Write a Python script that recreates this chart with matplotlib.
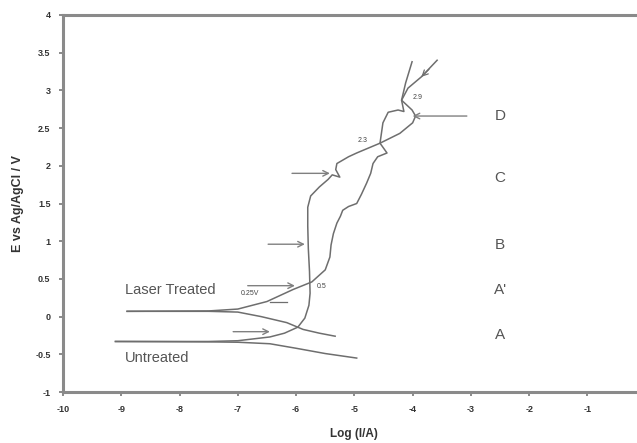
import matplotlib
matplotlib.use("Agg")
import matplotlib.pyplot as plt

plt.rcParams["font.family"] = ["Liberation Sans", "DejaVu Sans"]

# Laser treated sample: anodic (forward) branch and cathodic branch
laser_x = [-8.9, -7.5, -7.0, -6.5, -6.05, -5.73, -5.5, -5.42, -5.40, -5.36, -5.30,
           -5.24, -5.20, -5.10, -4.96, -4.88, -4.79, -4.72, -4.68, -4.60, -4.44,
           -4.56, -4.51, -4.42, -4.25, -4.15, -4.19, -4.08, -3.85, -3.58]
laser_y = [0.07, 0.075, 0.10, 0.20, 0.36, 0.46, 0.62, 0.79, 0.95, 1.10, 1.24,
           1.33, 1.41, 1.46, 1.50, 1.62, 1.77, 1.90, 2.03, 2.12, 2.17,
           2.30, 2.57, 2.71, 2.74, 2.72, 2.87, 3.03, 3.18, 3.40]
laser_cat_x = [-8.9, -7.5, -7.0, -6.6, -6.16, -5.88, -5.6, -5.33]
laser_cat_y = [0.07, 0.07, 0.06, 0.00, -0.08, -0.17, -0.22, -0.26]

# Untreated sample
untr_x = [-9.1, -7.5, -7.0, -6.45, -6.2, -5.97, -5.85, -5.78, -5.76, -5.77, -5.79,
          -5.80, -5.80, -5.75, -5.60, -5.45, -5.38, -5.25, -5.32, -5.30, -5.10,
          -4.96, -4.56, -4.22, -4.00, -3.95, -4.01, -4.19, -4.12, -4.01]
untr_y = [-0.33, -0.33, -0.32, -0.27, -0.22, -0.14, -0.02, 0.15, 0.31, 0.60, 0.90,
          1.20, 1.45, 1.60, 1.72, 1.82, 1.88, 1.85, 1.95, 2.03, 2.12,
          2.17, 2.30, 2.43, 2.57, 2.66, 2.74, 2.87, 3.10, 3.38]
untr_cat_x = [-9.1, -7.5, -7.0, -6.45, -6.0, -5.5, -4.96]
untr_cat_y = [-0.33, -0.335, -0.34, -0.36, -0.42, -0.49, -0.55]

# horizontal arrows marking the potentials
arrow_tail_x = [-7.08, -6.83, -6.48, -6.07, -3.07]
arrow_tip_x = [-6.45, -6.02, -5.85, -5.42, -4.0]
arrow_y = [-0.20, 0.41, 0.96, 1.90, 2.66]

region_labels = ["D", "C", "B", "A'", "A"]
region_y = [2.66, 1.84, 0.95, 0.35, -0.24]

point_labels = ["0.25V", "0.5", "2.3", "2.9"]
point_x = [-6.95, -5.65, -4.95, -4.0]
point_y = [0.30, 0.40, 2.33, 2.90]

xticks = [-10, -9, -8, -7, -6, -5, -4, -3, -2, -1]
yticks = [-1, -0.5, 0, 0.5, 1, 1.5, 2, 2.5, 3, 3.5, 4]

line_c = "#6e6e6e"

fig = plt.figure(figsize=(6.37, 4.43), dpi=100)
ax = fig.add_axes([63 / 637, 51 / 443, 574 / 637, 377 / 443])

ax.plot(laser_x, laser_y, color=line_c, lw=1.1)
ax.plot(laser_cat_x, laser_cat_y, color=line_c, lw=1.1)
ax.plot(untr_x, untr_y, color=line_c, lw=1.1)
ax.plot(untr_cat_x, untr_cat_y, color=line_c, lw=1.1)

for tx, hx, yy in zip(arrow_tail_x, arrow_tip_x, arrow_y):
    ax.annotate("", xy=(hx, yy), xytext=(tx, yy),
                arrowprops=dict(arrowstyle="->", color="#808080", lw=1.0,
                                shrinkA=0, shrinkB=0))
# small arrowhead on the upper branch and leader under 0.25V
ax.annotate("", xy=(-3.85, 3.18), xytext=(-3.72, 3.28),
            arrowprops=dict(arrowstyle="->", color=line_c, lw=0.9,
                            shrinkA=0, shrinkB=0))
ax.plot([-6.45, -6.16], [0.19, 0.19], color=line_c, lw=0.9)

for lab, yy in zip(region_labels, region_y):
    ax.text(-2.5, yy, lab, fontsize=11, color="#555555", ha="center", va="center")
for lab, xx, yy in zip(point_labels, point_x, point_y):
    ax.text(xx, yy, lab, fontsize=5, color="#444444", ha="left", va="center")

ax.text(-8.94, 0.35, "Laser Treated", fontsize=10.5, color="#555555", va="center")
ax.text(-8.94, -0.55, "Untreated", fontsize=10.5, color="#555555", va="center")

ax.set_xlim(-10, -0.15)
ax.set_ylim(-1, 4)
ax.set_xticks(xticks)
ax.set_yticks(yticks)
ax.set_xticklabels([str(t) for t in xticks], fontsize=6.5, fontweight="bold")
ax.set_yticklabels([f"{t:g}" for t in yticks], fontsize=6.5, fontweight="bold")
ax.tick_params(direction="out", length=3, width=1.2, color="#777777", pad=6,
               labelcolor="#333333")

for side in ["left", "bottom", "top"]:
    ax.spines[side].set_linewidth(2.2)
    ax.spines[side].set_color("#8a8a8a")
ax.spines["right"].set_visible(False)

ax.set_xlabel("Log (I/A)", fontsize=8.5, fontweight="bold", color="#333333")
ax.xaxis.set_label_coords(5 / 9.85, -0.095)
ax.set_ylabel("E vs Ag/AgCl / V", fontsize=9, fontweight="bold", color="#333333")
ax.yaxis.set_label_coords(-0.068, 0.5)

fig.savefig("out.png", dpi=100)
